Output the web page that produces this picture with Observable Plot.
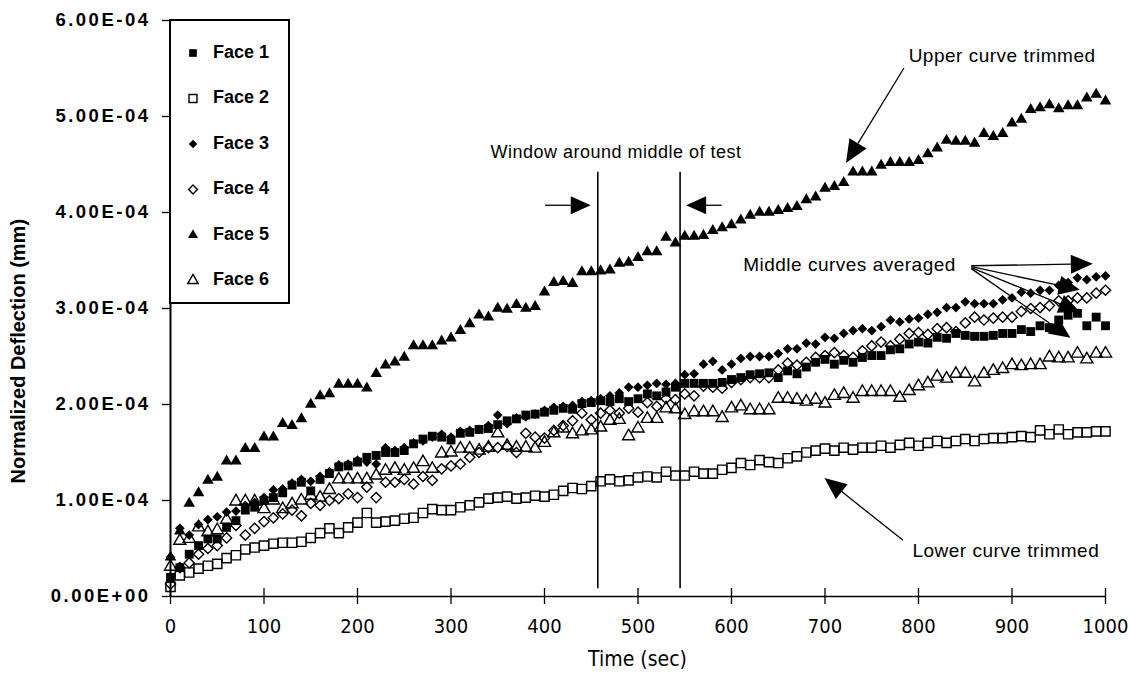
<!DOCTYPE html>
<html><head><meta charset="utf-8">
<script src="https://cdn.jsdelivr.net/npm/d3@7"></script>
<script src="https://cdn.jsdelivr.net/npm/@observablehq/plot@0.6"></script>
<style>
html,body{margin:0;padding:0;background:#fff;}
#chart{width:1129px;height:676px;}
g[aria-label="y-axis tick label"] text{letter-spacing:2.5px;}
</style></head><body><div id="chart"></div>
<script>
// Time samples (sec)
const times = [0,10,20,30,40,50,60,70,80,90,100,110,120,130,140,150,160,170,180,190,200,210,220,230,240,250,260,270,280,290,300,310,320,330,340,350,360,370,380,390,400,410,420,430,440,450,460,470,480,490,500,510,520,530,540,550,560,570,580,590,600,610,620,630,640,650,660,670,680,690,700,710,720,730,740,750,760,770,780,790,800,810,820,830,840,850,860,870,880,890,900,910,920,930,940,950,960,970,980,990,1000];

// Normalized deflection values, in units of 1E-04 mm
const face1 = [0.20,0.30,0.44,0.53,0.60,0.60,0.72,0.79,0.90,0.93,
 1.00,1.03,1.08,1.16,1.19,1.10,1.22,1.28,1.35,1.36,
 1.40,1.45,1.47,1.50,1.50,1.52,1.59,1.64,1.67,1.66,
 1.63,1.70,1.71,1.74,1.75,1.79,1.83,1.85,1.89,1.90,
 1.92,1.94,1.96,1.95,2.01,2.02,2.04,2.03,2.06,2.03,
 2.06,2.11,2.09,2.13,2.18,2.22,2.22,2.22,2.22,2.23,
 2.26,2.28,2.31,2.32,2.33,2.28,2.35,2.32,2.39,2.44,
 2.47,2.42,2.46,2.44,2.49,2.51,2.51,2.57,2.58,2.63,
 2.65,2.64,2.70,2.69,2.74,2.72,2.71,2.71,2.72,2.74,
 2.74,2.78,2.76,2.82,2.80,2.88,2.93,2.95,2.82,2.91,
 2.82];
const face2 = [0.10,0.22,0.25,0.29,0.32,0.34,0.40,0.43,0.49,0.51,
 0.53,0.55,0.56,0.56,0.57,0.61,0.66,0.71,0.66,0.72,
 0.77,0.87,0.77,0.78,0.79,0.81,0.82,0.87,0.91,0.90,
 0.90,0.93,0.95,0.98,1.02,1.03,1.04,1.02,1.03,1.05,
 1.04,1.06,1.10,1.13,1.12,1.15,1.20,1.22,1.20,1.21,
 1.24,1.25,1.24,1.30,1.26,1.26,1.30,1.28,1.28,1.32,
 1.34,1.39,1.37,1.42,1.40,1.39,1.44,1.46,1.50,1.52,
 1.54,1.52,1.55,1.53,1.55,1.55,1.57,1.55,1.58,1.60,
 1.57,1.60,1.62,1.60,1.62,1.64,1.62,1.64,1.65,1.65,
 1.66,1.67,1.66,1.73,1.69,1.74,1.69,1.71,1.71,1.72,
 1.72];
const face3 = [0.41,0.71,0.64,0.75,0.80,0.83,0.88,0.89,0.95,0.98,
 1.03,1.11,1.12,1.18,1.22,1.20,1.25,1.30,1.37,1.38,
 1.42,1.40,1.38,1.55,1.52,1.55,1.60,1.62,1.66,1.69,
 1.66,1.72,1.73,1.74,1.78,1.89,1.80,1.86,1.87,1.90,
 1.94,1.97,1.98,1.99,2.03,2.04,2.06,2.09,2.12,2.18,
 2.18,2.20,2.22,2.21,2.22,2.31,2.32,2.42,2.45,2.36,
 2.42,2.48,2.50,2.50,2.50,2.53,2.58,2.58,2.64,2.63,
 2.70,2.69,2.74,2.77,2.79,2.77,2.81,2.88,2.86,2.89,
 2.90,2.94,2.96,3.01,3.01,3.07,3.05,3.05,3.05,3.09,
 3.11,3.17,3.16,3.19,3.19,3.24,3.27,3.32,3.30,3.33,
 3.34];
const face4 = [0.13,0.30,0.35,0.44,0.50,0.53,0.61,0.74,0.64,0.71,
 0.78,0.82,0.86,0.90,0.84,0.97,0.95,1.00,1.02,1.07,
 1.03,1.14,1.03,1.19,1.19,1.22,1.17,1.25,1.21,1.33,
 1.36,1.38,1.45,1.50,1.55,1.55,1.56,1.50,1.70,1.66,
 1.65,1.73,1.78,1.83,1.91,1.84,1.91,1.94,1.91,1.96,
 1.92,2.02,1.98,2.06,2.05,2.11,2.09,2.19,2.18,2.17,
 2.23,2.26,2.28,2.28,2.28,2.36,2.43,2.41,2.44,2.49,
 2.51,2.54,2.51,2.49,2.56,2.61,2.65,2.61,2.68,2.74,
 2.75,2.73,2.79,2.80,2.76,2.85,2.91,2.88,2.90,2.91,
 2.91,2.97,3.00,3.01,3.03,3.08,3.08,3.11,3.11,3.16,
 3.19];
const face5 = [0.41,0.68,0.97,1.08,1.21,1.24,1.41,1.41,1.54,1.54,
 1.66,1.66,1.80,1.78,1.85,2.00,2.09,2.11,2.21,2.21,
 2.21,2.17,2.32,2.41,2.44,2.49,2.61,2.61,2.61,2.66,
 2.69,2.77,2.84,2.93,2.91,3.00,2.99,3.04,3.00,3.02,
 3.17,3.27,3.28,3.26,3.38,3.38,3.39,3.40,3.47,3.48,
 3.53,3.59,3.59,3.74,3.68,3.75,3.75,3.76,3.81,3.84,
 3.87,3.92,3.97,4.00,4.00,4.02,4.04,4.06,4.13,4.16,
 4.25,4.27,4.31,4.42,4.42,4.42,4.49,4.52,4.52,4.52,
 4.54,4.61,4.67,4.75,4.74,4.74,4.72,4.82,4.79,4.82,
 4.93,4.97,5.07,5.09,5.12,5.08,5.11,5.11,5.19,5.23,
 5.16];
const face6 = [0.31,0.58,0.60,0.72,0.67,0.69,0.80,0.99,0.99,0.99,
 0.91,1.00,0.91,0.96,1.00,1.05,1.03,1.11,1.22,1.22,
 1.22,1.22,1.26,1.31,1.33,1.31,1.33,1.40,1.33,1.49,
 1.50,1.54,1.54,1.52,1.55,1.70,1.57,1.55,1.55,1.54,
 1.60,1.70,1.75,1.69,1.72,1.73,1.76,1.83,1.84,1.67,
 1.75,1.85,1.85,1.96,1.95,1.89,1.92,1.92,1.92,1.86,
 1.96,1.98,1.94,1.94,1.94,2.06,2.06,2.05,2.03,2.05,
 2.01,2.09,2.11,2.06,2.13,2.13,2.13,2.13,2.07,2.14,
 2.19,2.22,2.29,2.27,2.32,2.32,2.23,2.32,2.35,2.37,
 2.41,2.40,2.41,2.41,2.49,2.48,2.48,2.53,2.47,2.53,
 2.53];

const faces = ["Face 1","Face 2","Face 3","Face 4","Face 5","Face 6"];
const seriesValues = [face1, face2, face3, face4, face5, face6];
const valueUnit = 1e-4;

const xTicks = [0,100,200,300,400,500,600,700,800,900,1000];
const xTickLabels = ["0","100","200","300","400","500","600","700","800","900","1000"];
const yTicks = [0,1e-4,2e-4,3e-4,4e-4,5e-4,6e-4];
const yTickLabels = ["0.00E+00","1.00E-04","2.00E-04","3.00E-04","4.00E-04","5.00E-04","6.00E-04"];

const windowTimes = [457, 545];

// ---- styling / layout (not data) ----
const markStyle = {
  "Face 1": {symbol: "square",   fill: "black", stroke: "none",  r: 5.0},
  "Face 2": {symbol: "square",   fill: "none",  stroke: "black", r: 5.2},
  "Face 3": {symbol: "diamond2", fill: "black", stroke: "none",  r: 4.4},
  "Face 4": {symbol: "diamond2", fill: "none",  stroke: "black", r: 4.6},
  "Face 5": {symbol: "triangle", fill: "black", stroke: "none",  r: 4.3},
  "Face 6": {symbol: "triangle", fill: "none",  stroke: "black", r: 4.5}
};
const windowSpan = [0.08e-4, 4.42e-4];
const sansFont = "'Liberation Sans', Arial, sans-serif";
const narrowFont = "'Liberation Sans Narrow', 'DejaVu Sans Condensed', 'Liberation Sans', sans-serif";

const rows = faces.flatMap((f, k) => seriesValues[k].map((v, i) => ({face: f, t: times[i], v: v * valueUnit})));

const dotMarks = faces.map(f => {
  const s = markStyle[f];
  return Plot.dot(rows.filter(d => d.face === f), {
    x: "t", y: "v", symbol: s.symbol, r: s.r, fill: s.fill, stroke: s.stroke,
    strokeWidth: 1.4
  });
});

const chart = Plot.plot({
  width: 1129, height: 676,
  marginLeft: 170, marginRight: 24, marginTop: 20, marginBottom: 80,
  style: {background: "white", color: "black", fontFamily: sansFont},
  x: {domain: [0, 1000]},
  y: {domain: [0, 6e-4]},
  marks: [
    Plot.axisY(yTicks, {tickFormat: d => yTickLabels[yTicks.indexOf(d)], tickSize: 8, tickPadding: 12,
      fontSize: 18.5, fontWeight: "bold", fontFamily: sansFont, label: null, strokeWidth: 1.3}),
    Plot.axisX(xTicks, {tickFormat: () => "", tickSize: 16, dy: -8, label: null, strokeWidth: 1.3}),
    Plot.axisX(xTicks, {tickFormat: d => xTickLabels[xTicks.indexOf(d)], tickSize: 0, tickPadding: 22,
      fontSize: 20, fontFamily: narrowFont, label: null}),
    Plot.ruleX([0], {strokeWidth: 2}),
    Plot.ruleY([0], {strokeWidth: 1.6}),
    Plot.ruleX(windowTimes, {y1: windowSpan[0], y2: windowSpan[1], strokeWidth: 1.6}),
    ...dotMarks
  ]
});
document.getElementById("chart").appendChild(chart);

// ---- annotations, legend and axis titles (positions in data units) ----
const X = chart.scale("x"), Y = chart.scale("y");
const px = t => X.apply(t), py = v => Y.apply(v * valueUnit);
const svg = d3.select(chart);
const ann = svg.append("g").attr("fill", "black").attr("stroke", "black");

function arrow(t0, v0, t1, v1, headLen, headW) {
  const x0 = px(t0), y0 = py(v0), x1 = px(t1), y1 = py(v1);
  const dx = x1 - x0, dy = y1 - y0, L = Math.hypot(dx, dy);
  const ux = dx / L, uy = dy / L;
  const bx = x1 - ux * headLen, by = y1 - uy * headLen;
  ann.append("line").attr("x1", x0).attr("y1", y0).attr("x2", bx).attr("y2", by).attr("stroke-width", 1.3);
  ann.append("polygon").attr("stroke", "none").attr("points",
    [[x1, y1], [bx - uy * headW / 2, by + ux * headW / 2], [bx + uy * headW / 2, by - ux * headW / 2]].map(p => p.join(",")).join(" "));
}
function label(txt, t, v, anchor, size, spacing) {
  ann.append("text").attr("x", px(t)).attr("y", py(v)).attr("text-anchor", anchor)
    .attr("dominant-baseline", "middle").attr("stroke", "none")
    .attr("font-size", size).attr("font-family", sansFont).attr("letter-spacing", spacing || 0)
    .text(txt);
}

const notes = [
  {text: "Window around middle of test", t: 477, v: 4.61, anchor: "middle", size: 18},
  {text: "Upper curve trimmed", t: 790, v: 5.61, anchor: "start", size: 19},
  {text: "Middle curves averaged", t: 613, v: 3.44, anchor: "start", size: 19},
  {text: "Lower curve trimmed", t: 794, v: 0.46, anchor: "start", size: 19}
];
notes.forEach(n => label(n.text, n.t, n.v, n.anchor, n.size, 0.5));

const arrows = [
  [401, 4.07, 450, 4.07, 20, 18],
  [590, 4.07, 552, 4.07, 20, 18],
  [785, 5.50, 723, 4.51, 23, 20],
  [857, 3.44, 987, 3.46, 22, 19],
  [857, 3.43, 973, 3.19, 21, 19],
  [857, 3.42, 973, 2.96, 21, 19],
  [857, 3.41, 963, 2.69, 21, 19],
  [784, 0.58, 700, 1.23, 22, 19]
];
arrows.forEach(a => arrow(...a));

// legend box
const lx = px(0), ly = py(6);
const lg = svg.append("g");
lg.append("rect").attr("x", lx).attr("y", ly).attr("width", 119).attr("height", 283)
  .attr("fill", "white").attr("stroke", "black").attr("stroke-width", 2);
const symbolType = {square: d3.symbolSquare, diamond2: d3.symbolDiamond2, triangle: d3.symbolTriangle};
faces.forEach((f, i) => {
  const s = markStyle[f];
  const cy = ly + 33 + i * 45.5;
  lg.append("path").attr("transform", `translate(${lx + 23},${cy})`)
    .attr("d", d3.symbol(symbolType[s.symbol], Math.PI * s.r * s.r * 0.75)())
    .attr("fill", s.fill).attr("stroke", s.stroke).attr("stroke-width", 1.4);
  lg.append("text").attr("x", lx + 43).attr("y", cy).attr("dominant-baseline", "middle")
    .attr("text-anchor", "start")
    .attr("font-size", 18).attr("font-weight", "bold").attr("font-family", sansFont).text(f);
});

// axis titles
svg.append("text").attr("transform", `translate(20,${py(2.55)}) rotate(-90)`).attr("text-anchor", "middle")
  .attr("dominant-baseline", "middle").attr("font-size", 20).attr("font-weight", "bold")
  .attr("font-family", sansFont).text("Normalized Deflection (mm)");
svg.append("text").attr("x", px(500)).attr("y", 660).attr("text-anchor", "middle")
  .attr("dominant-baseline", "middle").attr("font-size", 21).attr("font-family", narrowFont).text("Time (sec)");
</script></body></html>
